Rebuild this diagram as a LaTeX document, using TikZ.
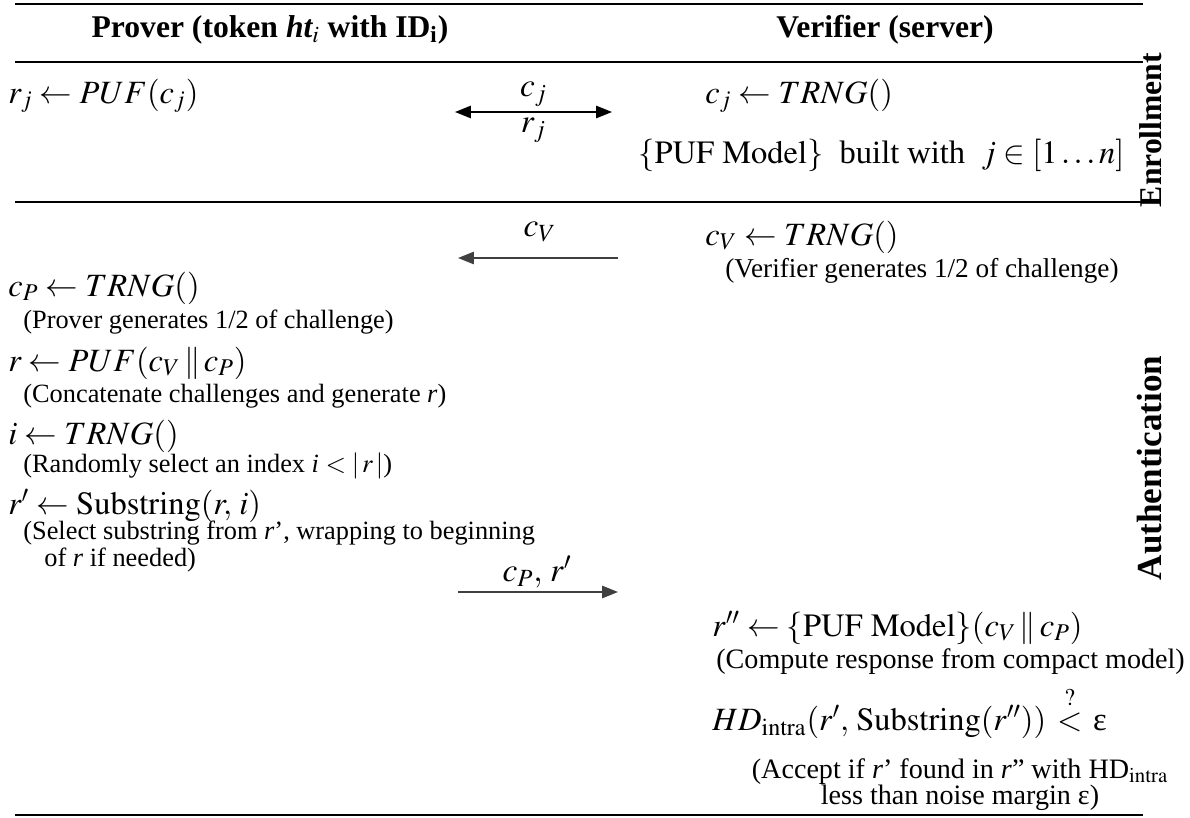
\documentclass[tikz,border=0pt]{standalone}
\usepackage{mathptmx}
\usepackage{fontspec}
\setmainfont{Liberation Serif}
\usetikzlibrary{arrows.meta,calc}

\begin{document}
\begin{tikzpicture}[x=0.02cm,y=-0.02cm,
  frm/.style={anchor=base west,inner sep=0pt,font=\fontsize{18.5}{21}\selectfont},
  note/.style={anchor=base west,inner sep=0pt,align=left,font=\fontsize{15}{17}\selectfont},
  vnote/.style={note,font=\fontsize{16}{18}\selectfont},
  hdr/.style={inner sep=0pt,font=\fontsize{18}{20}\selectfont\bfseries},
  side/.style={inner sep=0pt,rotate=90,font=\fontsize{18}{20}\selectfont\bfseries},
  msg/.style={inner sep=0pt,font=\fontsize{19}{21}\selectfont},
  flow/.style={line width=0.9pt,draw=black!75,-{Triangle[length=9pt,width=7pt]}}]
\useasboundingbox (0,0) rectangle (1190,818);

% table rules
\draw[line width=1.5pt] (15,4)--(1143,4);
\draw[line width=1.1pt] (15,62)--(1143,62);
\draw[line width=1.6pt] (15,202)--(1143,202);
\draw[line width=0.8pt] (15,815)--(1143,815);

% headings
\node[hdr] (prover) at (270,30) {Prover (token \textit{ht$_i$} with ID$_\mathbf{i}$)};
\node[hdr] (verifier) at (885,30) {Verifier (server)};
\node[side] (enroll) at (1151,130) {Enrollment};
\node[side,font=\fontsize{20}{22}\selectfont\bfseries] (auth) at (1150,468) {Authentication};

% enrollment
\node[frm] (prj) at (8,103) {$r_j \leftarrow PUF(c_j)$};
\node[frm] (vcj) at (705,103) {$c_j \leftarrow TRNG()$};
\node[frm] (model) at (638,163) {$\{\mathrm{PUF\ Model}\}$\ \ built with\ \ $j\in[1\ldots n]$};
\coordinate (e1) at (455,112);
\coordinate (e2) at (612,112);
\draw[flow,{Triangle[length=9pt,width=7pt]}-{Triangle[length=9pt,width=7pt]},draw=black] (e1)--(e2);
\node[msg,above=3pt] (mcj) at ($(e1)!0.5!(e2)$) {$c_j$};
\node[msg,below=3pt] (mrj) at ($(e1)!0.5!(e2)$) {$r_j$};

% authentication, verifier side
\node[frm] (vcv) at (705,245) {$c_V \leftarrow TRNG()$};
\node[note,font=\fontsize{15.5}{17}\selectfont] (vcvn) at (725,277) {(Verifier generates 1/2 of challenge)};
\coordinate (a1) at (618,258);
\coordinate (a2) at (458,258);
\draw[flow] (a1)--(a2);
\node[msg] (mcv) at (540,232) {$c_V$};

% prover side
\node[frm] (pcp) at (8,296) {$c_P \leftarrow TRNG()$};
\node[note] (pcpn) at (23,328) {(Prover generates 1/2 of challenge)};
\node[frm] (pr) at (8,371) {$r \leftarrow PUF(c_V \,\|\, c_P)$};
\node[note] (prn) at (23,402) {(Concatenate challenges and generate \textit{r})};
\node[frm] (pi) at (8,444) {$i \leftarrow TRNG()$};
\node[note] (pin) at (23,472) {(Randomly select an index \textit{i} $<|\,r\,|$)};
\node[frm] (prp) at (8,514) {$r' \leftarrow \mathrm{Substring}(r,\,i)$};
\node[note] (prpn) at (23,566) {(Select substring from \textit{r}’, wrapping to beginning\\[-2pt]\hspace*{12pt}of \textit{r} if needed)};
\coordinate (b1) at (458,592);
\coordinate (b2) at (618,592);
\draw[flow] (b1)--(b2);
\node[msg] (mcp) at (537,572) {$c_P,\,r'$};

% verifier checks
\node[frm] (vrpp) at (712,636) {$r'' \leftarrow \{\mathrm{PUF\ Model}\}(c_V \,\|\, c_P)$};
\node[vnote] (vrppn) at (716,668) {(Compute response from compact model)};
\node[frm] (vhd) at (712,730) {$HD_{\mathrm{intra}}(r',\,\mathrm{Substring}(r''))\,\stackrel{?}{<}\,\mbox{ε}$};
\node[vnote,anchor=north,align=center] (vhdn) at (960,758) {(Accept if \textit{r}’ found in \textit{r}” with HD$_{\mathrm{intra}}$\\[-3pt]less than noise margin ε)};
\end{tikzpicture}
\end{document}
